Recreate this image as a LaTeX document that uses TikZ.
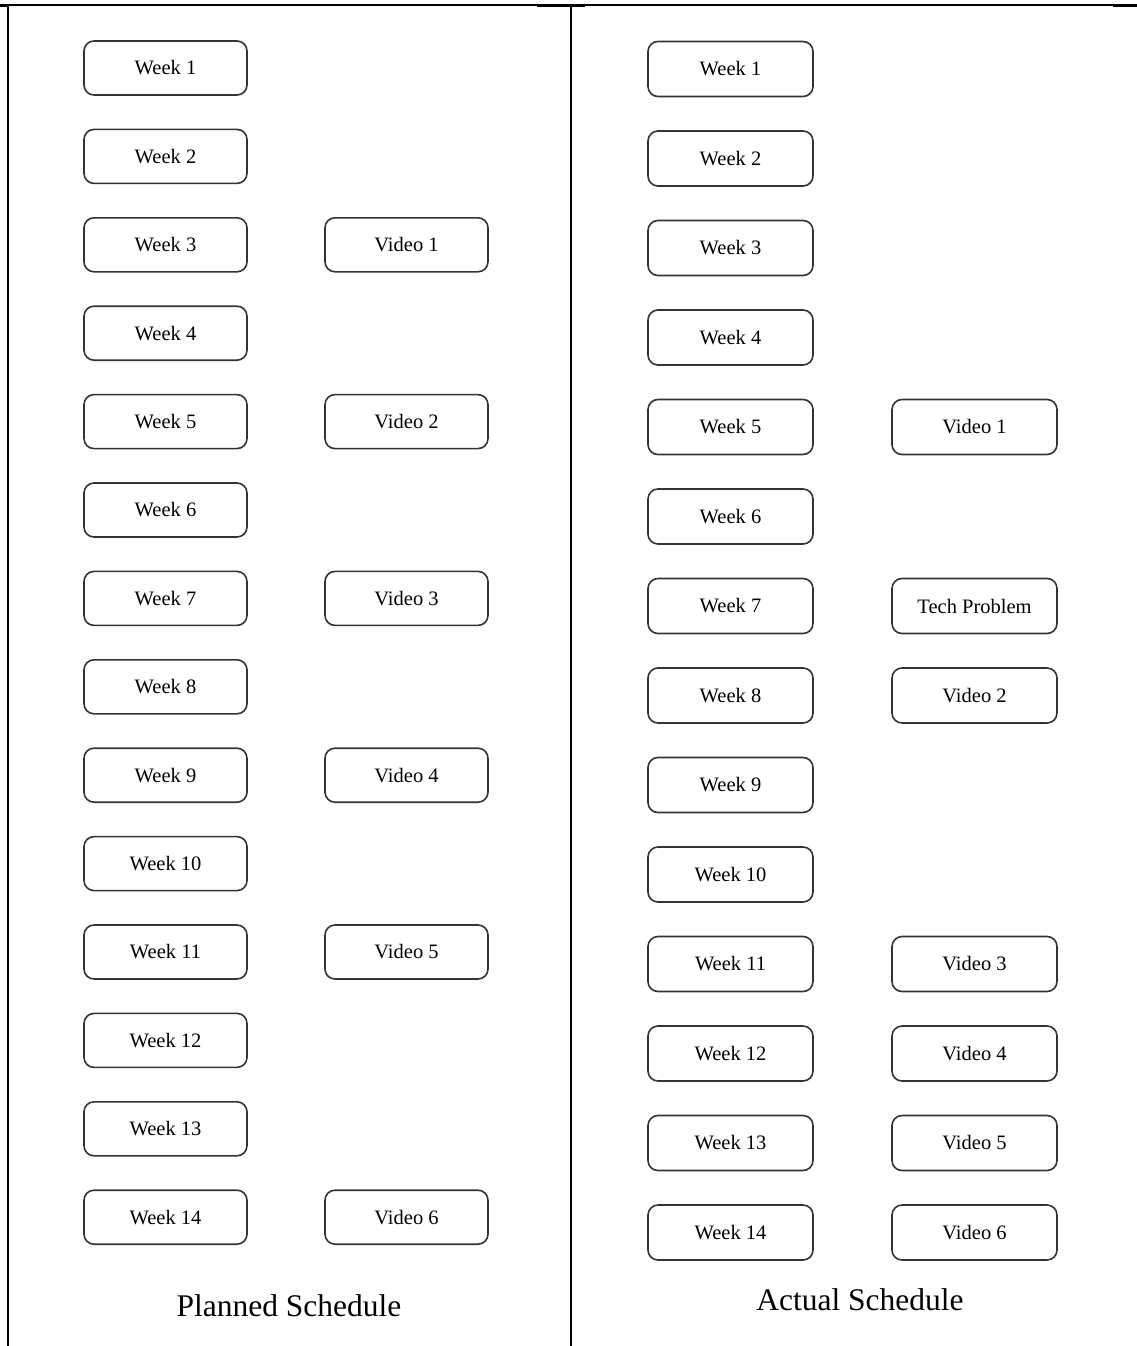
\documentclass[tikz,border=0pt]{standalone}
\usepackage{fontspec}
\setmainfont{Liberation Serif}
\begin{document}
\begin{tikzpicture}[x=1pt,y=-1pt,
  box/.style={draw=black!80, line width=1.6pt, rounded corners=10pt, fill=white,
    minimum height=54pt, inner sep=0pt, font=\fontsize{20.5}{24}\selectfont},
  lbox/.style={box, minimum width=163pt},
  rbox/.style={box, minimum width=165pt, minimum height=55pt},
  rule/.style={line width=2pt, black},
  caption/.style={font=\fontsize{31.5}{36}\selectfont, inner sep=0pt}]
\useasboundingbox (0,0) rectangle (1137,1346);
% frame lines
\coordinate (tl) at (0,5);
\coordinate (tr) at (1137,5);
\coordinate (lt) at (8,5);
\coordinate (lb) at (8,1346);
\coordinate (ct) at (571,5);
\coordinate (cb) at (571,1346);
\draw[line width=1.6pt] (tl) -- (tr);
\draw[rule] (lt) -- (lb);
\draw[rule] (ct) -- (cb);
\fill (0,4.2) rectangle (8,7.5);
\fill (537,4.2) rectangle (585,7.5);
\fill (1113,4.2) rectangle (1137,7.5);
% planned schedule
\foreach \i in {1,...,14} {
  \node[lbox] (pw\i) at (165.5,{68+(\i-1)*88.4}) {Week \i};
}
\foreach \v/\w in {1/3,2/5,3/7,4/9,5/11,6/14} {
  \node[lbox] (pv\v) at (406.5,{68+(\w-1)*88.4}) {Video \v};
}
% actual schedule
\foreach \i in {1,...,14} {
  \node[rbox] (aw\i) at (730.5,{69+(\i-1)*89.5}) {Week \i};
}
\foreach \v/\w in {1/5,2/8,3/11,4/12,5/13,6/14} {
  \node[rbox] (av\v) at (974.5,{69+(\w-1)*89.5}) {Video \v};
}
\node[rbox] (tech) at (974.5,{69+6*89.5}) {Tech Problem};
% captions
\node[caption] (pcap) at (289,1306) {Planned Schedule};
\node[caption] (acap) at (860,1300) {Actual Schedule};
\end{tikzpicture}
\end{document}
